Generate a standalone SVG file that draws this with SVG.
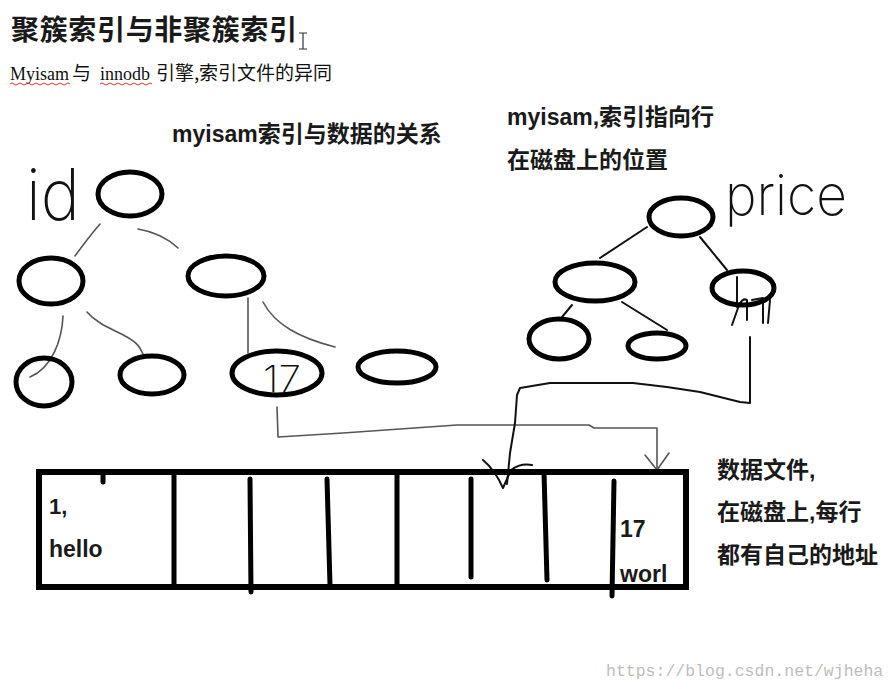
<svg xmlns="http://www.w3.org/2000/svg" width="896" height="689" viewBox="0 0 896 689">
<style>
.bg{fill:#fff}
.node{fill:none;stroke:#000;stroke-width:5}
.thin{fill:none;stroke:#555;stroke-width:1.6;stroke-linecap:round;stroke-linejoin:round}
.blk{fill:none;stroke:#111;stroke-width:2;stroke-linecap:round;stroke-linejoin:round}
.div{stroke:#000;stroke-width:5;stroke-linecap:round}
.cjkb{font-family:"Liberation Sans","Noto Sans CJK SC",sans-serif;font-weight:bold;fill:#1a1a1a}
.hand{font-family:"Inter","Open Sans","DejaVu Sans",sans-serif;font-weight:200;fill:#111}
.wave{fill:none;stroke:#e03030;stroke-width:1}
</style>
<rect class="bg" x="0" y="0" width="896" height="689"/>

<g id="title">
<text class="cjkb" x="11" y="40" font-size="28" fill="#111" textLength="286" lengthAdjust="spacing">聚簇索引与非聚簇索引</text>
<path d="M299,33 h8 M303,33 v16 M299,49 h8" stroke="#333" stroke-width="1.2" fill="none"/>
</g>
<g id="subtitle" font-size="19">
<text x="10" y="80" font-family="Liberation Serif,serif" font-size="18" fill="#111">Myisam</text>
<text x="72" y="80" font-family="'Noto Sans CJK SC',sans-serif" fill="#111">与</text>
<text x="100" y="80" font-family="Liberation Serif,serif" font-size="18" fill="#111">innodb</text>
<text x="156" y="80" font-family="'Noto Sans CJK SC',sans-serif" fill="#111">引擎,</text>
<text x="199" y="80" font-family="'Noto Sans CJK SC',sans-serif" fill="#111">索引文件的异同</text>
<path class="wave" d="M10,84 q2,-2 4,0 t4,0 t4,0 t4,0 t4,0 t4,0 t4,0 t4,0 t4,0 t4,0 t4,0 t4,0 t4,0 t4,0 t4,0"/>
<path class="wave" d="M100,84 q2,-2 4,0 t4,0 t4,0 t4,0 t4,0 t4,0 t4,0 t4,0 t4,0 t4,0 t4,0 t4,0 t4,0"/>
</g>

<g id="labels" font-size="23">
<text class="cjkb" x="172" y="142">myisam索引与数据的关系</text>
<text class="cjkb" x="507" y="125">myisam,索引指向行</text>
<text class="cjkb" x="507" y="168">在磁盘上的位置</text>
<text class="cjkb" x="717" y="478">数据文件,</text>
<text class="cjkb" x="717" y="520">在磁盘上,每行</text>
<text class="cjkb" x="717" y="563">都有自己的地址</text>
</g>

<g id="handwriting">
<text class="hand" x="26" y="220" font-size="72" textLength="54" lengthAdjust="spacingAndGlyphs">id</text>
<text class="hand" x="725" y="215" font-size="56" textLength="122" lengthAdjust="spacingAndGlyphs">price</text>
<text class="hand" x="263" y="392" font-size="36" fill="#333" textLength="38" lengthAdjust="spacingAndGlyphs">17</text>
</g>

<g id="connectors">
<path class="thin" d="M100,224 Q88,238 75,256"/>
<path class="thin" d="M138,229 Q162,233 178,248"/>
<path class="thin" d="M63,316 C62,340 52,368 30,377"/>
<path class="thin" d="M87,312 C98,325 115,330 127,337 S140,348 143,354"/>
<path class="thin" d="M248,298 L248,353"/>
<path class="thin" d="M263,302 C275,325 300,338 335,347"/>
<path class="thin" d="M277,407 L278,437 L343,433 L457,425 L589,425 L594,428 L657,428 L657,470"/>
<path class="thin" d="M645,455 L657,470 L669,453"/>
<path class="blk" d="M647,227 L600,258"/>
<path class="blk" d="M700,237 L727,270"/>
<path class="blk" d="M572,305 L562,317"/>
<path class="blk" d="M622,302 L667,330"/>
<path class="blk" d="M737,277 L737,307 M732,325 L738,308 Q742,297 747,300 L747,320 M752,300 L763,298 L763,323 M768,323 L770,300"/>
<path class="blk" d="M750,337 L750,403 L740,402 L700,392 L667,387 L633,383 L550,383 L520,388 L517,395 L515,423 L510,453 L507,484"/>
<path class="blk" d="M483,460 Q495,470 503,488 L511,470 Q520,463 532,465"/>
</g>

<g id="left-root"><ellipse class="node" cx="130" cy="194" rx="32" ry="22"/></g>
<g id="left-l"><ellipse class="node" cx="51" cy="281" rx="32" ry="23"/></g>
<g id="left-r"><ellipse class="node" cx="226" cy="276" rx="38" ry="20"/></g>
<g id="left-leaf1"><ellipse class="node" cx="44" cy="382" rx="28" ry="24"/></g>
<g id="left-leaf2"><ellipse class="node" cx="152" cy="375" rx="32" ry="19"/></g>
<g id="left-leaf3"><ellipse class="node" cx="277" cy="373" rx="45" ry="22"/></g>
<g id="left-leaf4"><ellipse class="node" cx="397" cy="367" rx="39" ry="16"/></g>

<g id="right-root"><ellipse class="node" cx="681" cy="217" rx="32" ry="19"/></g>
<g id="right-l"><ellipse class="node" cx="595" cy="282" rx="40" ry="19"/></g>
<g id="right-r"><ellipse class="node" cx="743" cy="288" rx="31" ry="17"/></g>
<g id="right-ll"><ellipse class="node" cx="559" cy="339" rx="30" ry="20"/></g>
<g id="right-lr"><ellipse class="node" cx="657" cy="346" rx="29" ry="13"/></g>

<g id="datafile">
<rect x="39" y="472" width="647" height="115" fill="none" stroke="#000" stroke-width="6"/>
<line class="div" x1="103" y1="472" x2="103" y2="482"/>
<line class="div" x1="174" y1="472" x2="174" y2="587"/>
<line class="div" x1="250" y1="479" x2="251" y2="592"/>
<line class="div" x1="327" y1="479" x2="330" y2="585"/>
<line class="div" x1="397" y1="472" x2="397" y2="587"/>
<line class="div" x1="471" y1="479" x2="471" y2="577"/>
<line class="div" x1="544" y1="472" x2="547" y2="580"/>
<line class="div" x1="614" y1="481" x2="612" y2="596"/>
<text class="cjkb" x="49" y="514" font-size="22">1,</text>
<text class="cjkb" x="49" y="557" font-size="23">hello</text>
<text class="cjkb" x="620" y="537" font-size="23">17</text>
<text class="cjkb" x="620" y="582" font-size="23">worl</text>
</g>

<g id="watermark">
<text x="606" y="676" font-family="Liberation Mono,monospace" font-size="16.5" fill="#bdbdbd">https://blog.csdn.net/wjheha</text>
</g>
</svg>
